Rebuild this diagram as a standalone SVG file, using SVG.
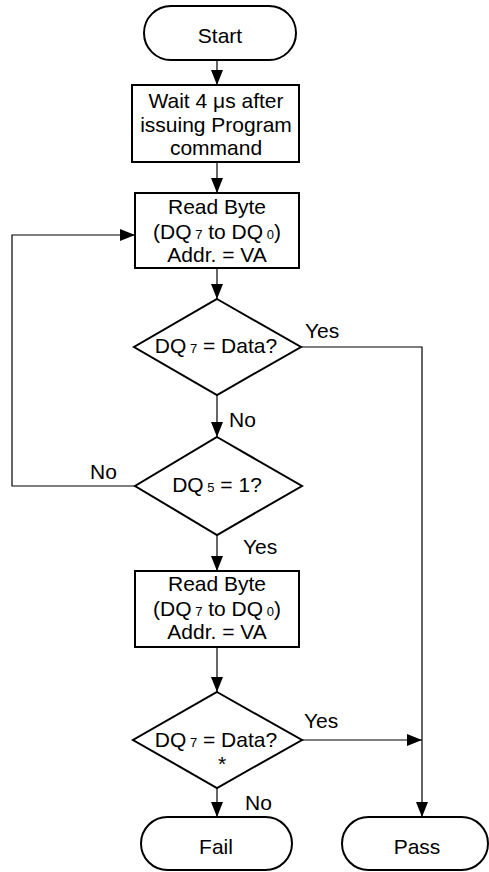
<svg xmlns="http://www.w3.org/2000/svg" width="489" height="872" viewBox="0 0 489 872">
<style>
.shape{fill:#fff;stroke:#000;stroke-width:2}
.conn{fill:none;stroke:#000;stroke-width:1.2}
text{font-family:"Liberation Sans",Arial,sans-serif;font-size:21px;fill:#000}
.c{text-anchor:middle}
.sub{font-size:13px}
</style>
<defs>
<marker id="ah" markerUnits="userSpaceOnUse" markerWidth="16" markerHeight="12" refX="15" refY="6" orient="auto">
<path d="M0,0 L15,6 L0,12 Z" fill="#000"/>
</marker>
</defs>
<g id="connectors">
<line class="conn" x1="217" y1="60" x2="217" y2="85" marker-end="url(#ah)"/>
<line class="conn" x1="217" y1="162" x2="217" y2="193" marker-end="url(#ah)"/>
<line class="conn" x1="217" y1="268" x2="217" y2="299" marker-end="url(#ah)"/>
<line class="conn" x1="217" y1="395" x2="217" y2="437" marker-end="url(#ah)"/>
<polyline class="conn" points="301,347 422,347 422,817" marker-end="url(#ah)"/>
<polyline class="conn" points="135,486 12,486 12,235 135,235" marker-end="url(#ah)"/>
<line class="conn" x1="217" y1="535" x2="217" y2="571" marker-end="url(#ah)"/>
<line class="conn" x1="217" y1="647" x2="217" y2="692" marker-end="url(#ah)"/>
<line class="conn" x1="302" y1="740" x2="422" y2="740" marker-end="url(#ah)"/>
<line class="conn" x1="217" y1="788" x2="217" y2="817" marker-end="url(#ah)"/>
<text x="305" y="338">Yes</text>
<text x="229" y="427">No</text>
<text x="90" y="479">No</text>
<text x="243" y="554">Yes</text>
<text x="304" y="728">Yes</text>
<text x="245" y="810">No</text>
</g>
<g id="start">
<rect class="shape" x="144" y="6" width="152" height="54" rx="27" ry="27"/>
<text class="c" x="220" y="43">Start</text>
</g>
<g id="wait">
<rect class="shape" x="132" y="85" width="167" height="77"/>
<text class="c" x="216" y="108">Wait 4 μs after</text>
<text class="c" x="216" y="132">issuing Program</text>
<text class="c" x="216" y="155">command</text>
</g>
<g id="read1">
<rect class="shape" x="135" y="193" width="164" height="75"/>
<text class="c" x="217" y="214">Read Byte</text>
<text class="c" x="217" y="239">(DQ<tspan class="sub"> 7</tspan> to DQ<tspan class="sub"> 0</tspan>)</text>
<text class="c" x="217" y="262">Addr. = VA</text>
</g>
<g id="dq7a">
<polygon class="shape" points="217,299 301,347 217,395 134,347"/>
<text class="c" x="216" y="353">DQ<tspan class="sub"> 7</tspan> = Data?</text>
</g>
<g id="dq5">
<polygon class="shape" points="217,437 302,486 217,535 135,486"/>
<text class="c" x="217" y="492">DQ<tspan class="sub"> 5</tspan> = 1?</text>
</g>
<g id="read2">
<rect class="shape" x="135" y="571" width="164" height="76"/>
<text class="c" x="217" y="591">Read Byte</text>
<text class="c" x="217" y="616">(DQ<tspan class="sub"> 7</tspan> to DQ<tspan class="sub"> 0</tspan>)</text>
<text class="c" x="217" y="639">Addr. = VA</text>
</g>
<g id="dq7b">
<polygon class="shape" points="217,692 302,740 217,788 133,740"/>
<text class="c" x="216" y="747">DQ<tspan class="sub"> 7</tspan> = Data?</text>
<text class="c" x="222" y="771">*</text>
</g>
<g id="fail">
<rect class="shape" x="141" y="817" width="151" height="53" rx="26.5" ry="26.5"/>
<text class="c" x="216" y="854">Fail</text>
</g>
<g id="pass">
<rect class="shape" x="342" y="817" width="146" height="53" rx="26.5" ry="26.5"/>
<text class="c" x="417" y="854">Pass</text>
</g>
</svg>
